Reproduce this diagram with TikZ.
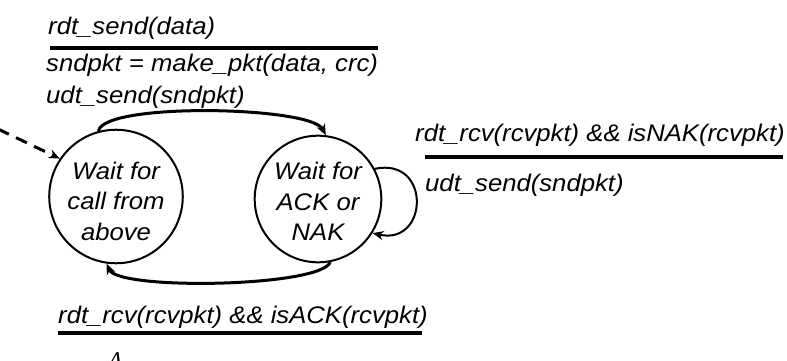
\documentclass[tikz,border=0pt]{standalone}
\usepackage{fontspec}
\newfontfamily\labfont[FakeStretch=1.07]{Liberation Sans}
\newfontfamily\lamfont{Liberation Serif}
\usetikzlibrary{arrows.meta}
\newcommand\stxt[2]{\raisebox{#1}[\height][\depth]{\begin{tabular}{@{}c@{}}#2\end{tabular}}}
\begin{document}
\begin{tikzpicture}[x=1pt,y=-1pt,
  lab/.style={font=\fontsize{24}{30.5}\selectfont\labfont\itshape, inner sep=0pt, anchor=base west},
  state/.style={circle, draw, line width=2pt, inner sep=0pt, font=\fontsize{24}{30.5}\selectfont\labfont\itshape},
  bar/.style={line width=3.5pt},
  trans/.style={line width=3pt, -{Stealth[length=11pt,width=9pt]}},
]
\useasboundingbox (0,0) rectangle (787,361);

\node[state, minimum size=124pt] (A) at (116,196.5) {\stxt{-7pt}{Wait for\\call from\\above}};
\node[state, minimum size=122pt] (B) at (318,199) {\stxt{-5pt}{Wait for\\ACK or\\NAK}};

\node[lab] (t1) at (48,35) {rdt\_send(data)};
\draw[bar] (50,48) -- (378,48);
\node[lab] (t2) at (46,71) {sndpkt = make\_pkt(data, crc)};
\node[lab] (t3) at (46,103) {udt\_send(sndpkt)};

\node[lab] (r1) at (415,141) {rdt\_rcv(rcvpkt) \&\& isNAK(rcvpkt)};
\draw[bar] (425,157) -- (783,157);
\node[lab] (r2) at (425,191) {udt\_send(sndpkt)};

\node[lab] (b1) at (58,323) {rdt\_rcv(rcvpkt) \&\& isACK(rcvpkt)};
\draw[bar] (58,333) -- (422,333);
\node[lab, font=\fontsize{24}{27}\selectfont\lamfont\itshape] (lam) at (108,368) {Λ};

\coordinate (init) at (-2,129);
\draw[trans, dash pattern=on 12pt off 8pt] (init) -- (A.146);
\draw[trans] (A.105) .. controls +(5,-29) and +(-15,-29) .. (B.83.5);
\draw[trans] (B.281) .. controls +(-10,25) and +(12,27) .. (A.262.6);
\draw[trans, line width=2pt] (B.28.5) .. controls +(57,-12) and +(56,13) .. (B.-32.3);
\end{tikzpicture}
\end{document}
